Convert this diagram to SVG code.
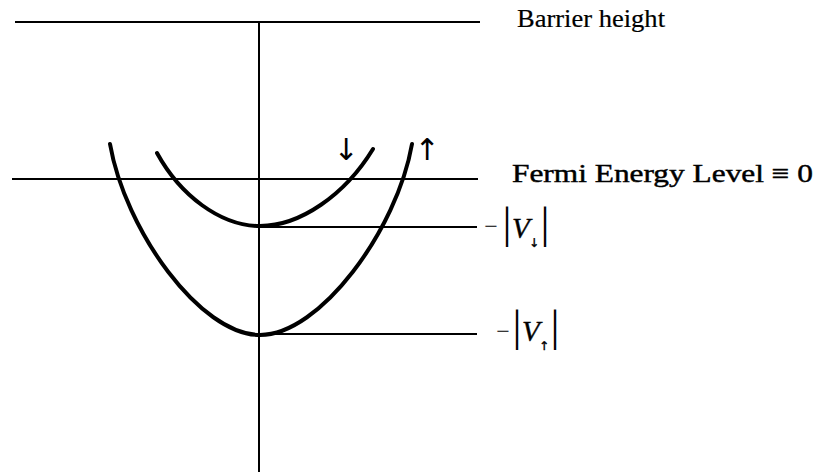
<svg xmlns="http://www.w3.org/2000/svg" width="823" height="476" viewBox="0 0 823 476">
<style>
.ln{stroke:#000;stroke-width:2;fill:none}
.cv{stroke:#000;stroke-width:4;fill:none;stroke-linecap:round}
.t{font-family:"Liberation Serif","Times New Roman",serif;fill:#000}
.ar{font-family:"DejaVu Sans",sans-serif;fill:#000}
.it{font-style:italic;stroke:#000;stroke-width:0.4}
.sub{font-family:"DejaVu Sans",sans-serif;fill:#000;stroke:#000;stroke-width:0.4}
</style>
<rect width="823" height="476" fill="#fff"/>
<g id="axes">
<line class="ln" x1="15" y1="22" x2="480" y2="22"/>
<line class="ln" x1="259" y1="22" x2="259" y2="472"/>
<line class="ln" x1="12" y1="179" x2="478" y2="179"/>
<line class="ln" x1="259" y1="227" x2="477" y2="227"/>
<line class="ln" x1="259" y1="334" x2="477" y2="334"/>
</g>
<g id="curves">
<path id="up-band" class="cv" d="M110,144 C125,230 200,335 260,335 C320,335 397,230 412,144"/>
<path id="down-band" class="cv" d="M157,153 C180,195 220,226 260,226 C300,226 345,195 373,149"/>
</g>
<g id="arrows">
<text class="ar" x="346" y="160" font-size="30" text-anchor="middle">↓</text>
<text class="ar" x="427" y="160" font-size="30" text-anchor="middle">↑</text>
</g>
<g id="labels">
<text class="t" x="517" y="27" font-size="26" stroke="#000" stroke-width="0.2" textLength="148" lengthAdjust="spacingAndGlyphs">Barrier height</text>
<text class="t" x="512" y="182" font-size="26" stroke="#000" stroke-width="0.45" textLength="301" lengthAdjust="spacingAndGlyphs">Fermi Energy Level ≡ 0</text>
<g id="v-down">
<text class="t" x="491" y="234" font-size="24" text-anchor="middle">−</text>
<text class="t" x="507" y="238" font-size="45" text-anchor="middle">|</text>
<text class="t it" x="512" y="238" font-size="29">V</text>
<text class="sub" x="534" y="247" font-size="12" text-anchor="middle">↓</text>
<text class="t" x="545" y="238" font-size="45" text-anchor="middle">|</text>
</g>
<g id="v-up">
<text class="t" x="503" y="339" font-size="24" text-anchor="middle">−</text>
<text class="t" x="517" y="341" font-size="45" text-anchor="middle">|</text>
<text class="t it" x="522" y="341" font-size="29">V</text>
<text class="sub" x="544" y="350" font-size="12" text-anchor="middle">↑</text>
<text class="t" x="555" y="341" font-size="45" text-anchor="middle">|</text>
</g>
</g>
</svg>
